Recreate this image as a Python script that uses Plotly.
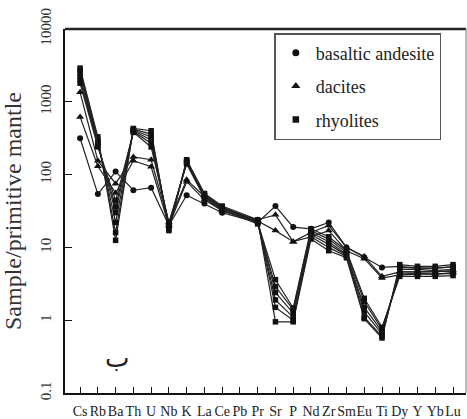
import plotly.graph_objects as go

elements = ["Cs", "Rb", "Ba", "Th", "U", "Nb", "K", "La", "Ce", "Pb", "Pr",
            "Sr", "P", "Nd", "Zr", "Sm", "Eu", "Ti", "Dy", "Y", "Yb", "Lu"]

# basaltic andesite (circles)
ba_1 = [316, 54, 110, 61, 66, 20, 52, 40, 30, None, 22, 37, 19, 18, 22, 10, 7.3, 5.3, 5.5, 5.2, 5.2, 5.4]

# dacites (triangles)
dac_1 = [1350, 155, 75, 175, 160, 22, 85, 50, 34, None, 24, 28, 12, 16, 20, 10, 7.5, 4.0, 4.6, 4.6, 4.6, 4.8]
dac_2 = [620, 130, 56, 155, 128, 20, 80, 45, 32, None, 23, 17, 12, 14, 17, 9, 7.0, 3.8, 4.2, 4.3, 4.3, 4.5]

# rhyolites (squares)
rhy_1 = [2900, 330, 12.5, 430, 400, 17, 160, 55, 37, None, 24, 0.95, 0.95, 13, 9, 7.2, 1.05, 0.57, 5.8, 5.5, 5.5, 5.8]
rhy_2 = [2700, 300, 16, 420, 360, 18, 155, 54, 36, None, 23, 1.5, 1.0, 14, 10, 7.5, 1.1, 0.6, 5.3, 5.2, 5.2, 5.4]
rhy_3 = [2500, 280, 22, 410, 330, 19, 150, 52, 35, None, 22, 1.9, 1.1, 15, 11, 7.8, 1.3, 0.65, 5.0, 5.0, 4.8, 5.0]
rhy_4 = [2200, 270, 30, 400, 300, 20, 148, 52, 34, None, 23, 2.4, 1.25, 16, 12, 8.0, 1.5, 0.7, 4.6, 4.6, 4.6, 4.7]
rhy_5 = [2000, 250, 36, 390, 270, 21, 145, 50, 33, None, 21, 2.9, 1.4, 17, 13, 8.5, 1.8, 0.75, 4.3, 4.4, 4.3, 4.4]
rhy_6 = [1800, 240, 44, 380, 240, 22, 140, 48, 32, None, 22, 3.6, 1.47, 18, 14, 9.0, 2.0, 0.8, 4.0, 4.0, 4.0, 4.1]

y_ticks = [0.1, 1, 10, 100, 1000, 10000]
y_tick_labels = ["0.1", "1", "10", "100", "1000", "10000"]

groups = [
    ("basaltic andesite", "circle", 6, [ba_1]),
    ("dacites", "triangle-up", 7, [dac_1, dac_2]),
    ("rhyolites", "square", 5.5, [rhy_1, rhy_2, rhy_3, rhy_4, rhy_5, rhy_6]),
]

serif = "'Liberation Serif', 'Times New Roman', 'DejaVu Serif', serif"
fig = go.Figure()

for name, sym, size, samples in groups:
    for s in samples:
        fig.add_trace(go.Scatter(
            x=elements, y=s, mode="lines+markers", connectgaps=True,
            line=dict(color="#222", width=1.2),
            marker=dict(symbol=sym, size=size, color="#111"),
            legendgroup=name, showlegend=False, hoverinfo="x+y"))

for name, sym, size, samples in groups:
    fig.add_trace(go.Scatter(
        x=[None], y=[None], mode="markers", name=name,
        marker=dict(symbol=sym, size=size + 1, color="#111"),
        legendgroup=name, showlegend=True))

fig.update_layout(
    width=467, height=419,
    margin=dict(l=65, r=1, t=29, b=26),
    paper_bgcolor="white", plot_bgcolor="white",
    font=dict(family=serif, color="#222"),
    legend=dict(x=0.522, y=0.989, xanchor="left", yanchor="top",
                bordercolor="#555", borderwidth=1.5, bgcolor="white",
                font=dict(size=18, family=serif, color="#222"),
                traceorder="grouped", tracegroupgap=7, itemwidth=30),
    xaxis=dict(type="category", range=[-0.85, 21.73],
               showline=True, linecolor="#111", linewidth=2,
               ticks="inside", ticklen=6, tickcolor="#111", tickwidth=1.2,
               tickangle=0, showgrid=False, zeroline=False,
               tickfont=dict(size=14, family=serif, color="#222"),
               ticklabelstandoff=4),
    yaxis=dict(type="log", range=[-1, 4],
               tickvals=y_ticks, ticktext=y_tick_labels, tickangle=-90,
               showline=True, linecolor="#111", linewidth=2,
               ticks="inside", ticklen=7, tickcolor="#111", tickwidth=1.2,
               showgrid=False, zeroline=False,
               tickfont=dict(size=15, family=serif, color="#333"),
               ticklabelstandoff=6,
               title=dict(text="Sample/primitive mantle", standoff=11,
                          font=dict(size=24, family=serif, color="#333"))),
)

# frame: thick top border and thin right border
fig.add_shape(type="line", xref="paper", yref="paper", x0=0, x1=1, y0=1, y1=1,
              line=dict(color="#222", width=2.5))
fig.add_shape(type="line", xref="paper", yref="paper", x0=1, x1=1, y0=0, y1=1,
              line=dict(color="#777", width=1))

fig.add_annotation(text="ب", xref="paper", yref="paper", x=0.095, y=0.05,
                   showarrow=False, font=dict(size=26, family="DejaVu Sans", color="#222"))

fig.write_html("out.html")
